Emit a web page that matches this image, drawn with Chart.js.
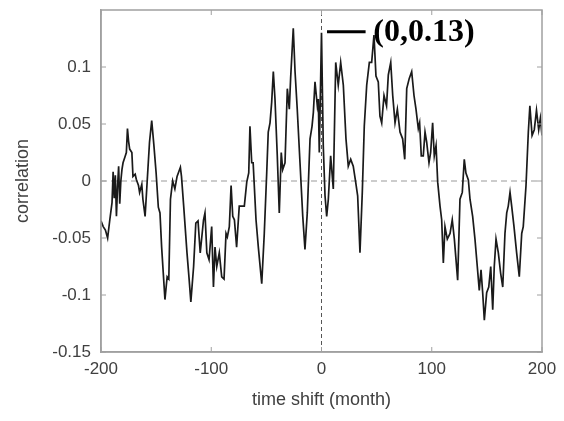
<!DOCTYPE html>
<html lang="en">
<head>
    <meta charset="UTF-8">
    <title>Correlation vs time shift</title>
    <script src="https://cdn.jsdelivr.net/npm/chart.js"></script>
</head>
<style>
    body{ margin:0; background:#fff; }
    #corrChart{ width:564px; height:421px; display:block; }
</style>
<body>
    <canvas id="corrChart" width="564" height="421"></canvas>

    <script>
        // time shift in months
        const months = [
            -200, -198, -196, -194, -192, -190, -189, -188, -187, -186, -185, -184, -183, -182, -181, -180,
            -178, -177, -176, -175, -174, -172, -171, -169, -168, -166, -165, -163, -162, -160, -158, -156,
            -154, -152, -150, -148, -146.5, -145, -143.5, -142, -140, -138.5, -137, -135, -133, -131, -128,
            -127, -125, -122, -120, -118.5, -116, -114, -112, -110, -107, -105.7, -104, -102, -99.6, -98,
            -96.6, -95, -92.7, -90.5, -88.4, -86.6, -85.4, -83.6, -82, -80.5, -79, -77, -74.6, -72.4, -70,
            -67.8, -66, -64.9, -63.3, -62, -59.4, -57.3, -54.2, -51.9, -49.7, -48.3, -46.7, -45.2, -43.7,
            -42.2, -40.1, -38.3, -36.5, -35.2, -33.1, -31, -29.2, -28, -25.6, -24, -22, -19.5, -17, -15,
            -12.9, -10.4, -8.6, -7.4, -5.9, -3.8, -2.9, -2, 0, 1.6, 3.2, 4.7, 6.2, 8.3, 10.7, 12.9, 15.2,
            17.4, 19.8, 22.2, 24.3, 26.5, 28.8, 31, 32.8, 34.9, 37, 38.8, 41, 43.4, 45.5, 47.6, 49.4, 51.5,
            53, 54.6, 56.7, 59, 60.6, 62.8, 64.6, 66.7, 68.8, 71.2, 73.6, 75.5, 77.3, 79.6, 81.8, 83.9, 85.7,
            87.8, 89, 90.5, 92.3, 93.9, 95.4, 97.5, 99, 100.8, 102.3, 103.9, 105.4, 107.5, 109, 110.5, 112,
            114.1, 116.6, 118.6, 120.5, 122, 123.5, 125.6, 127.7, 129.5, 131, 133.2, 134.7, 137.1, 139.2,
            141.3, 143.1, 144.7, 146.2, 147.7, 149.8, 151.7, 153.5, 155.3, 156.7, 158.3, 160.4, 162.5, 164.4,
            166.4, 168, 169.4, 171, 172.5, 174.6, 177, 179.4, 181.6, 183, 185.5, 187.6, 189, 191, 193, 195,
            197, 198.5, 200
        ];
        const correlation = [
            -0.035, -0.04, -0.043, -0.05, -0.034, -0.019, 0.008, -0.015, 0.005, -0.031, -0.005, 0.013, -0.02, 0.0, 0.01, 0.016,
            0.022, 0.025, 0.046, 0.035, 0.028, 0.025, 0.004, 0.006, 0.0015, -0.004, -0.01, -0.003, -0.016, -0.031, 0.0015, 0.034,
            0.053, 0.031, 0.007, -0.023, -0.028, -0.058, -0.081, -0.104, -0.084, -0.086, -0.016, 0.0, -0.007, 0.004, 0.012,
            0.004, -0.022, -0.063, -0.087, -0.106, -0.075, -0.037, -0.035, -0.063, -0.034, -0.028, -0.063, -0.069, -0.04, -0.093,
            -0.058, -0.075, -0.063, -0.084, -0.086, -0.046, -0.049, -0.04, -0.004, -0.031, -0.034, -0.058, -0.022, -0.022, -0.022,
            -0.001, 0.007, 0.048, 0.016, 0.016, -0.034, -0.058, -0.09, -0.046, 0.007, 0.043, 0.051, 0.069, 0.096,
            0.072, 0.022, -0.028, 0.025, 0.01, 0.016, 0.081, 0.063, 0.09, 0.134, 0.096, 0.063, 0.016, -0.031, -0.06,
            -0.028, 0.037, 0.048, 0.06, 0.087, 0.066, 0.072, 0.025, 0.13, 0.031, -0.013, -0.031, -0.016, 0.022, -0.007, 0.104, 0.084,
            0.104, 0.084, 0.037, 0.013, 0.019, 0.013, -0.001, -0.013, -0.063, -0.01, 0.048, 0.084, 0.104, 0.104, 0.128, 0.092, 0.087,
            0.057, 0.051, 0.075, 0.066, 0.093, 0.104, 0.075, 0.051, 0.063, 0.043, 0.037, 0.019, 0.081, 0.09, 0.096, 0.075, 0.063,
            0.046, 0.051, 0.022, 0.022, 0.043, 0.034, 0.016, 0.025, 0.051, 0.022, 0.031, -0.001, -0.022, -0.034, -0.072, -0.04,
            -0.051, -0.046, -0.034, -0.051, -0.069, -0.087, -0.016, -0.01, 0.019, 0.007, 0.001, -0.016, -0.031, -0.051,
            -0.075, -0.096, -0.078, -0.098, -0.122, -0.098, -0.093, -0.075, -0.113, -0.075, -0.051, -0.063, -0.081, -0.093,
            -0.046, -0.028, -0.022, -0.01, -0.022, -0.04, -0.063, -0.084, -0.046, -0.04, -0.004, 0.043, 0.066, 0.04, 0.045, 0.062,
            0.045, 0.055, 0.04
        ];
        const xTicks = [-200, -100, 0, 100, 200];
        const yTicks = [-0.15, -0.1, -0.05, 0, 0.05, 0.1];
        const peakLabel = '(0,0.13)';

        const labelFont = 'Liberation Sans';
        const textGray = '#404040';
        const boxGray = '#a0a0a0';

        // box on all four sides plus inward ticks, MATLAB style
        const boxPlugin = {
            id: 'boxPlugin',
            afterDatasetsDraw(chart) {
                const ctx = chart.ctx;
                const a = chart.chartArea;
                const xs = chart.scales.x;
                const ys = chart.scales.y;
                ctx.save();
                ctx.strokeStyle = boxGray;
                ctx.lineWidth = 1.5;
                ctx.strokeRect(a.left, a.top, a.right - a.left, a.bottom - a.top);
                ctx.lineWidth = 1;
                ctx.beginPath();
                xTicks.forEach(v => {
                    const px = xs.getPixelForValue(v);
                    ctx.moveTo(px, a.bottom); ctx.lineTo(px, a.bottom - 5);
                    ctx.moveTo(px, a.top); ctx.lineTo(px, a.top + 5);
                });
                yTicks.forEach(v => {
                    const py = ys.getPixelForValue(v);
                    ctx.moveTo(a.left, py); ctx.lineTo(a.left + 5, py);
                    ctx.moveTo(a.right, py); ctx.lineTo(a.right - 5, py);
                });
                ctx.stroke();

                // peak annotation
                const yPos = ys.getPixelForValue(0.131);
                ctx.strokeStyle = '#000';
                ctx.lineWidth = 3;
                ctx.beginPath();
                ctx.moveTo(xs.getPixelForValue(5), yPos);
                ctx.lineTo(xs.getPixelForValue(40), yPos);
                ctx.stroke();
                ctx.fillStyle = '#000';
                ctx.font = 'bold 32px "Liberation Serif"';
                ctx.textBaseline = 'middle';
                ctx.fillText(peakLabel, xs.getPixelForValue(47), yPos + 1);
                ctx.restore();
            }
        };

        const ctx = document.getElementById('corrChart').getContext('2d');
        const chart = new Chart(ctx, {
            type: 'scatter',
            data: {
                datasets: [{
                    label: 'correlation',
                    data: months.map((m, i) => ({ x: m, y: correlation[i] })),
                    showLine: true,
                    borderColor: '#1a1a1a',
                    borderWidth: 1.7,
                    pointRadius: 0,
                    tension: 0,
                    order: 1
                }, {
                    label: 'zero',
                    data: [{ x: -200, y: 0 }, { x: 200, y: 0 }],
                    showLine: true,
                    borderColor: '#999',
                    borderWidth: 1.2,
                    borderDash: [6, 4],
                    pointRadius: 0,
                    order: 2
                }, {
                    label: 'lag0',
                    data: [{ x: 0, y: -0.15 }, { x: 0, y: 0.15 }],
                    showLine: true,
                    borderColor: '#555',
                    borderWidth: 1,
                    borderDash: [4, 3],
                    pointRadius: 0,
                    order: 2
                }]
            },
            options: {
                responsive: false,
                animation: false,
                layout: { padding: { top: 10, right: 22, left: 0, bottom: 0 } },
                plugins: {
                    legend: { display: false },
                    tooltip: { enabled: false }
                },
                scales: {
                    x: {
                        type: 'linear',
                        min: -200,
                        max: 200,
                        afterBuildTicks: s => { s.ticks = xTicks.map(v => ({ value: v })); },
                        afterFit: s => { s.height = 69; s.paddingLeft = 0; s.paddingRight = 0; },
                        grid: { drawOnChartArea: false, drawTicks: false },
                        border: { color: boxGray, width: 1.5 },
                        ticks: {
                            color: textGray,
                            padding: 7,
                            maxRotation: 0,
                            font: { family: labelFont, size: 17 }
                        },
                        title: {
                            display: true,
                            text: 'time shift (month)',
                            color: textGray,
                            padding: { top: 0, bottom: 10 },
                            font: { family: labelFont, size: 18 }
                        }
                    },
                    y: {
                        min: -0.15,
                        max: 0.15,
                        afterBuildTicks: s => { s.ticks = yTicks.map(v => ({ value: v })); },
                        afterFit: s => { s.width = 101; s.paddingTop = 0; s.paddingBottom = 0; },
                        grid: { drawOnChartArea: false, drawTicks: false },
                        border: { color: boxGray, width: 1.5 },
                        ticks: {
                            color: textGray,
                            padding: 10,
                            font: { family: labelFont, size: 17 },
                            callback: v => String(Math.round(v * 100) / 100)
                        },
                        title: {
                            display: true,
                            text: 'correlation',
                            color: textGray,
                            padding: { top: 12, bottom: 0 },
                            font: { family: labelFont, size: 18 }
                        }
                    }
                }
            },
            plugins: [boxPlugin]
        });
    </script>
</body>
</html>
